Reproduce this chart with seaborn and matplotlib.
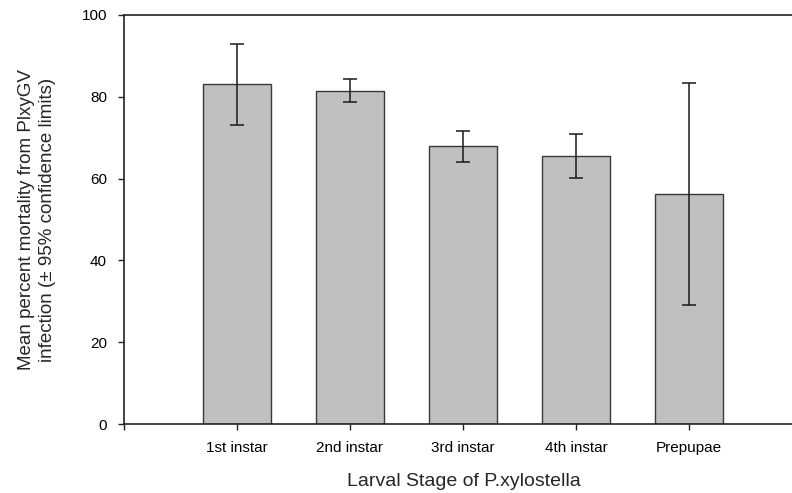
import matplotlib
matplotlib.use("Agg")
import matplotlib.pyplot as plt
import seaborn as sns
import pandas as pd
import numpy as np

stages = ["1st instar", "2nd instar", "3rd instar", "4th instar", "Prepupae"]
mortality = [83.1, 81.5, 67.9, 65.5, 56.2]
ci_lower = [73.2, 78.7, 64.0, 60.1, 29.2]
ci_upper = [93.0, 84.4, 71.7, 70.8, 83.4]

sns.set_theme(style="ticks")
plt.rcParams["font.family"] = ["Liberation Sans", "DejaVu Sans"]

df = pd.DataFrame({"stage": stages, "mortality": mortality})

fig = plt.figure(figsize=(7.92, 4.93), dpi=100)
ax = fig.add_axes([124 / 792, 69 / 493, (800 - 124) / 792, 409 / 493])

sns.barplot(data=df, x="stage", y="mortality", order=stages, color="#c0c0c0",
            edgecolor="#383838", linewidth=1.0, width=0.6, saturation=1,
            errorbar=None, ax=ax)

pos = np.arange(len(stages))
vals = np.array(mortality)
yerr = np.vstack([vals - np.array(ci_lower), np.array(ci_upper) - vals])
ax.errorbar(pos, vals, yerr=yerr, fmt="none", ecolor="#1a1a1a",
            elinewidth=1.1, capsize=4.8, capthick=1.1)

ax.set_xlim(-1, (800 - 237) / 113)
ax.set_ylim(0, 100)
ax.set_yticks([0, 20, 40, 60, 80, 100])
ax.set_xticks([-1] + list(pos))
ax.set_xticklabels([""] + stages)

for s in ["left", "bottom", "top"]:
    ax.spines[s].set_color("#222222")
    ax.spines[s].set_linewidth(1.2)
ax.spines["right"].set_visible(False)

ax.tick_params(axis="both", direction="out", length=4.3, width=1,
               color="#222222", labelsize=11, labelcolor="black")
ax.tick_params(axis="y", pad=8)
ax.tick_params(axis="x", pad=8)

ax.set_xlabel("Larval Stage of P.xylostella", fontsize=14)
ax.xaxis.set_label_coords(0.503, -0.12)
ax.set_ylabel("Mean percent mortality from PlxyGV\ninfection (\u00b1 95% confidence limits)",
              fontsize=13.5, linespacing=1.3)
ax.yaxis.set_label_coords(-0.1, 0.5)

fig.savefig("out.png", dpi=100)
